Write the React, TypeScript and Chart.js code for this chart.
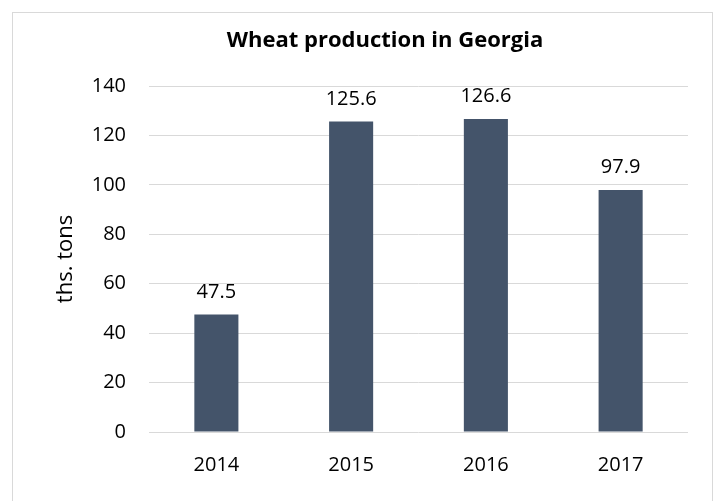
import React, { useEffect, useRef } from "react";
import { Chart, registerables } from "chart.js";

Chart.register(...registerables);

const categories = ["2014", "2015", "2016", "2017"];
const values = [47.5, 125.6, 126.6, 97.9];
const valueLabels = ["47.5", "125.6", "126.6", "97.9"];
const chartTitle = "Wheat production in Georgia";
const yAxisTitle = "ths. tons";

const FONT = "'Open Sans', 'Noto Sans', sans-serif";

export default function App() {
  const ref = useRef<HTMLCanvasElement | null>(null);

  useEffect(() => {
    if (!ref.current) return;
    const framePlugin = {
      id: "frame",
      beforeDraw(chart: any) {
        const ctx = chart.ctx;
        ctx.save();
        ctx.fillStyle = "#ffffff";
        ctx.fillRect(0, 0, chart.width, chart.height);
        ctx.strokeStyle = "#d9d9d9";
        ctx.lineWidth = 1;
        ctx.strokeRect(12.5, 12.5, 700, 520);
        ctx.restore();
      },
      afterDraw(chart: any) {
        const ctx = chart.ctx;
        ctx.save();
        ctx.fillStyle = "#000000";
        ctx.font = `bold 22px ${FONT}`;
        ctx.textAlign = "center";
        ctx.textBaseline = "alphabetic";
        ctx.fillText(chartTitle, 385, 47);
        ctx.font = `20px ${FONT}`;
        const meta = chart.getDatasetMeta(0);
        meta.data.forEach((bar: any, i: number) => {
          ctx.fillText(valueLabels[i], bar.x, bar.y - 17);
        });
        ctx.restore();
      },
    };

    const chart = new Chart(ref.current, {
      type: "bar",
      data: {
        labels: categories,
        datasets: [
          {
            data: values,
            backgroundColor: "#44546A",
            barPercentage: 0.327,
            categoryPercentage: 1,
          },
        ],
      },
      options: {
        animation: false,
        responsive: false,
        layout: { padding: { left: 0, right: 30, top: 86, bottom: 0 } },
        plugins: {
          legend: { display: false },
          title: { display: false },
          tooltip: { enabled: false },
        },
        scales: {
          x: {
            grid: { display: false },
            border: { display: false },
            ticks: {
              color: "#000000",
              font: { family: FONT, size: 20 },
              padding: 13,
            },
            afterFit(scale: any) {
              scale.height = 69;
            },
          },
          y: {
            min: 0,
            max: 140,
            ticks: {
              stepSize: 20,
              color: "#000000",
              font: { family: FONT, size: 20 },
              padding: 23,
            },
            grid: { color: "#d9d9d9", lineWidth: 1, drawTicks: false, tickLength: 0 },
            border: { display: false },
            title: {
              display: true,
              text: yAxisTitle,
              color: "#000000",
              font: { family: FONT, size: 22 },
              padding: { top: 53, bottom: 0 },
            },
            afterFit(scale: any) {
              scale.width = 149;
            },
          },
        },
      },
      plugins: [framePlugin],
    } as any);

    return () => chart.destroy();
  }, []);

  return (
    <div style={{ position: "absolute", left: 0, top: 0, width: 718, height: 501 }}>
      <canvas ref={ref} width={718} height={501} />
    </div>
  );
}
